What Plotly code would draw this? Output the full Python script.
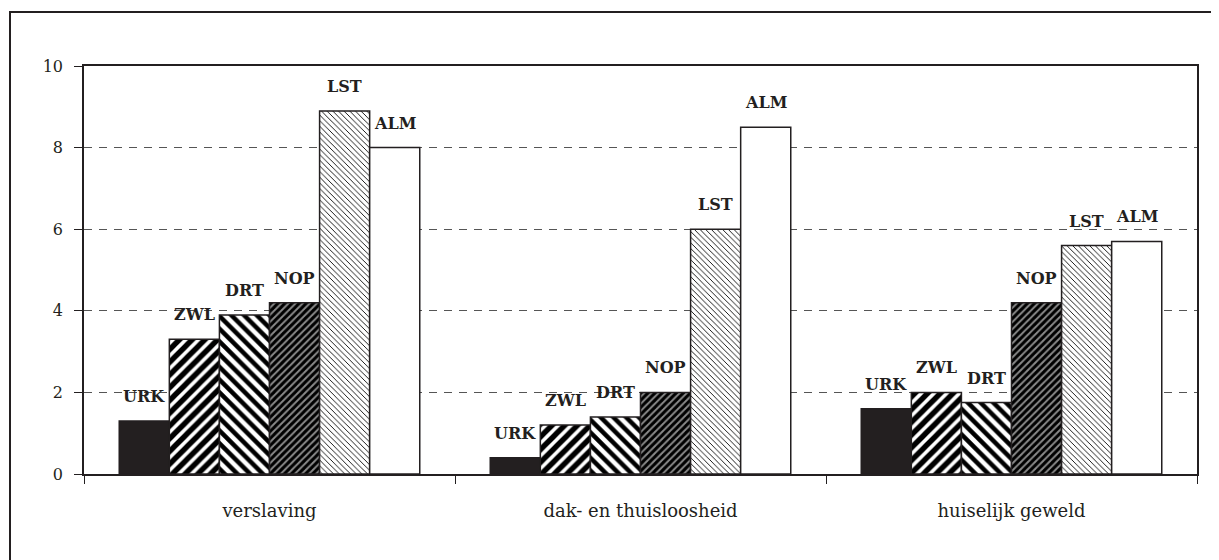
import plotly.graph_objects as go

categories = ["verslaving", "dak- en thuisloosheid", "huiselijk geweld"]
series = ["URK", "ZWL", "DRT", "NOP", "LST", "ALM"]
urk = [1.3, 0.4, 1.6]
zwl = [3.3, 1.2, 2.0]
drt = [3.9, 1.4, 1.75]
nop = [4.2, 2.0, 4.2]
lst = [8.9, 6.0, 5.6]
alm = [8.0, 8.5, 5.7]
values = [urk, zwl, drt, nop, lst, alm]
y_ticks = [0, 2, 4, 6, 8, 10]

INK = "#231f20"
patterns = [
    dict(shape="", fgcolor=INK, bgcolor=INK),
    dict(shape="/", fgcolor="#000000", bgcolor="#ffffff", fgopacity=1, size=9, solidity=0.6, fillmode="replace"),
    dict(shape="\\", fgcolor="#000000", bgcolor="#ffffff", fgopacity=1, size=9, solidity=0.5, fillmode="replace"),
    dict(shape="/", fgcolor="#000000", bgcolor="#8a8a8a", fgopacity=1, size=5, solidity=0.6, fillmode="replace"),
    dict(shape="\\", fgcolor="#000000", bgcolor="#ffffff", fgopacity=1, size=4, solidity=0.22, fillmode="replace"),
    dict(shape="", fgcolor="white", bgcolor="white"),
]
colors = [INK, "white", "white", "#333", "#ddd", "white"]

BARGAP = 0.19
fig = go.Figure()
for s, vals, pat, col in zip(series, values, patterns, colors):
    fig.add_trace(go.Bar(
        x=categories, y=vals, name=s,
        marker=dict(color=col, pattern=pat, line=dict(color=INK, width=1.5)),
    ))

n = len(series)
w = (1 - BARGAP) / n
annotations = []
for si, (s, vals) in enumerate(zip(series, values)):
    for gi, v in enumerate(vals):
        annotations.append(dict(
            x=gi + (si - (n - 1) / 2) * w, y=v, xref="x", yref="y",
            text=s, showarrow=False, yanchor="bottom", yshift=13,
            font=dict(family="DejaVu Serif", size=16, color=INK, weight="bold"),
        ))

# page has 8px body margin; figure coords = window coords - 8
OFF = 8
W, H = 1219 - OFF, 560 - OFF
L, R, T, B = 84 - OFF, 1197 - OFF, 66 - OFF, 474 - OFF
pw, ph = R - L, B - T
def px(xp): return (xp - OFF - L) / pw
def py(yp): return (B - (yp - OFF)) / ph

fig.update_layout(
    width=W, height=H,
    margin=dict(l=L, r=W - R, t=T, b=H - B),
    paper_bgcolor="white", plot_bgcolor="white",
    barmode="group", bargap=BARGAP, bargroupgap=0,
    showlegend=False,
    font=dict(family="DejaVu Serif", color=INK),
    annotations=annotations,
    shapes=[dict(type="rect", xref="paper", yref="paper",
                 x0=px(10), x1=px(1240), y0=py(590), y1=py(12),
                 line=dict(color=INK, width=2), fillcolor="rgba(0,0,0,0)",
                 layer="below")],
    xaxis=dict(
        type="category", tickson="boundaries", ticks="outside", ticklen=8,
        tickcolor=INK, showline=True, linecolor=INK, linewidth=1.5, mirror=True,
        showgrid=False, tickfont=dict(family="DejaVu Serif", size=18, color=INK),
        ticklabelstandoff=20,
    ),
    yaxis=dict(
        range=[0, 10], tickvals=y_ticks, ticks="outside", ticklen=8, tickcolor=INK,
        showline=True, linecolor=INK, linewidth=1.5, mirror=True,
        showgrid=True, gridcolor="#555", gridwidth=1, griddash="8px,7px",
        zeroline=False, tickfont=dict(family="DejaVu Serif", size=16, color=INK),
        ticklabelstandoff=8,
    ),
)

fig.write_html("out.html")
